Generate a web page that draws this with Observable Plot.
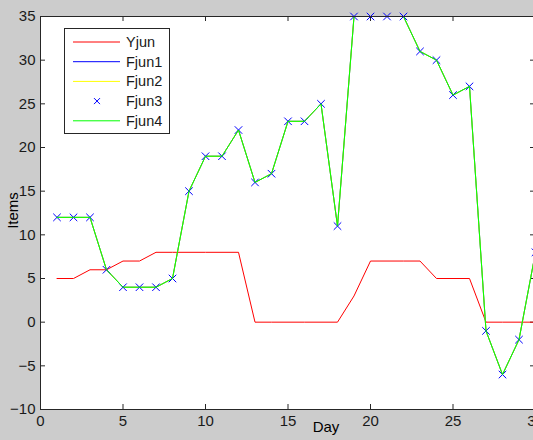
<!DOCTYPE html>
<html>
<head>
<meta charset="utf-8">
<script src="https://cdn.jsdelivr.net/npm/d3@7"></script>
<script src="https://cdn.jsdelivr.net/npm/@observablehq/plot@0.6"></script>
<style>
  html, body { margin: 0; padding: 0; background: #cccccc; overflow: hidden; }
  #wrap { position: relative; width: 533px; height: 440px; overflow: hidden; }
  #chart svg { max-width: none !important; display: block; }
  #legend {
    position: absolute; left: 64px; top: 28px; width: 104px; height: 104px;
    background: #ffffff; border: 1px solid #262626;
  }
  #legend svg { position: absolute; left: 0; top: 0; }
</style>
</head>
<body>
<div id="wrap"><div id="chart"></div><div id="legend"></div></div>
<script>
// Daily item counts and forecasts
const days = [1, 2, 3, 4, 5, 6, 7, 8, 9, 10, 11, 12, 13, 14, 15,
              16, 17, 18, 19, 20, 21, 22, 23, 24, 25, 26, 27, 28, 29, 30];
const yjun = [5, 5, 6, 6, 7, 7, 8, 8, 8, 8, 8, 8, 0, 0, 0,
              0, 0, 0, 3, 7, 7, 7, 7, 5, 5, 5, 0, 0, 0, 0];
// the four forecast series coincide
const fjun1 = [12, 12, 12, 6, 4, 4, 4, 5, 15, 19, 19, 22, 16, 17, 23,
               23, 25, 11, 35, 35, 35, 35, 31, 30, 26, 27, -1, -6, -2, 8];
const fjun2 = fjun1.slice();
const fjun3 = fjun1.slice();
const fjun4 = fjun1.slice();

const seriesNames = ["Yjun", "Fjun1", "Fjun2", "Fjun3", "Fjun4"];
const seriesColors = ["#ff0000", "#0000ff", "#ffff00", "#0000ff", "#00ff00"];

const xTicks = [0, 5, 10, 15, 20, 25, 30];
const yTicks = [-10, -5, 0, 5, 10, 15, 20, 25, 30, 35];

const rows = days.map((d, i) => ({
  day: d, yjun: yjun[i], fjun1: fjun1[i], fjun2: fjun2[i], fjun3: fjun3[i], fjun4: fjun4[i]
}));

const W = 545, H = 440, mL = 40, mR = 10, mT = 16, mB = 31;
const plotW = W - mL - mR, plotH = H - mT - mB, tick = 5;
const font = "'Liberation Sans', Arial, sans-serif";

const chart = Plot.plot({
  width: W, height: H,
  marginLeft: mL, marginRight: mR, marginTop: mT, marginBottom: mB,
  style: {background: "transparent", fontFamily: font, fontSize: "15px", color: "#1a1a1a", maxWidth: "none"},
  x: {domain: [0, 30], label: null},
  y: {domain: [-10, 35], label: null},
  marks: [
    Plot.frame({fill: "#ffffff", stroke: null}),
    Plot.axisX(xTicks, {tickSize: 0, tickPadding: 6, fontSize: 15}),
    Plot.axisY(yTicks, {tickSize: 0, tickPadding: 5, fontSize: 15}),
    // inward ticks on all four sides
    Plot.tickX(xTicks, {x: d => d, insetTop: plotH - tick, stroke: "#262626"}),
    Plot.tickX(xTicks, {x: d => d, insetBottom: plotH - tick, stroke: "#262626"}),
    Plot.tickY(yTicks, {y: d => d, insetRight: plotW - tick, stroke: "#262626"}),
    Plot.tickY(yTicks, {y: d => d, insetLeft: plotW - tick, stroke: "#262626"}),
    Plot.line(rows, {x: "day", y: "yjun", stroke: seriesColors[0], strokeWidth: 1}),
    Plot.line(rows, {x: "day", y: "fjun1", stroke: seriesColors[1], strokeWidth: 1}),
    Plot.line(rows, {x: "day", y: "fjun2", stroke: seriesColors[2], strokeWidth: 1}),
    Plot.dot(rows, {x: "day", y: "fjun3", symbol: "times", stroke: seriesColors[3], strokeWidth: 1, r: 3.5}),
    Plot.line(rows, {x: "day", y: "fjun4", stroke: seriesColors[4], strokeWidth: 1}),
    Plot.frame({stroke: "#262626"}),
    Plot.text(["Day"], {frameAnchor: "bottom", dx: 38, dy: 22, fontSize: 15, fill: "#000"}),
    Plot.text(["Items"], {frameAnchor: "left", textAnchor: "middle", rotate: -90, dx: -27, dy: -2.5, fontSize: 15, fill: "#000"})
  ]
});
document.getElementById("chart").appendChild(chart);

// legend box inside the axes
const lsvg = d3.select("#legend").append("svg").attr("width", 104).attr("height", 104);
seriesNames.forEach((name, i) => {
  const cy = 13 + i * 19.7;
  if (name === "Fjun3") {
    const s = 3;
    lsvg.append("path")
      .attr("d", `M${32 - s},${cy - s}L${32 + s},${cy + s}M${32 - s},${cy + s}L${32 + s},${cy - s}`)
      .attr("stroke", seriesColors[i]).attr("stroke-width", 1).attr("fill", "none");
  } else {
    lsvg.append("line")
      .attr("x1", 8).attr("x2", 55).attr("y1", cy).attr("y2", cy)
      .attr("stroke", seriesColors[i]).attr("stroke-width", 1);
  }
  lsvg.append("text")
    .attr("x", 61).attr("y", cy).attr("dy", "0.35em")
    .attr("font-family", font)
    .attr("font-size", 14.5).attr("fill", "#1a1a1a")
    .text(name);
});
</script>
</body>
</html>
